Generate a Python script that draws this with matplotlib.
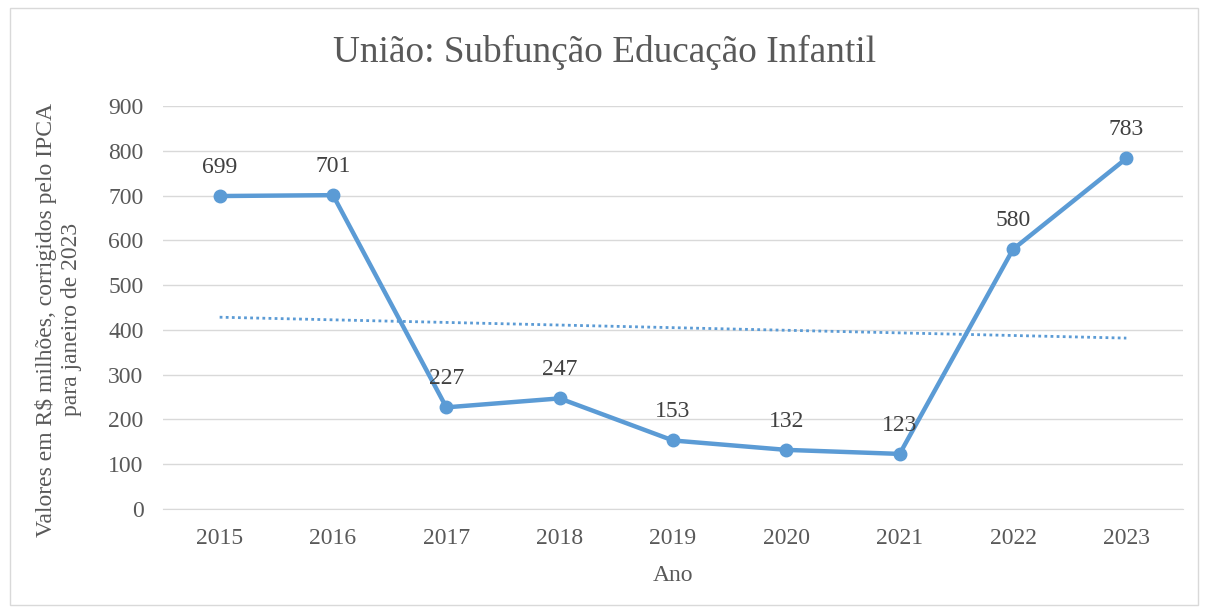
import matplotlib
matplotlib.use("Agg")
import matplotlib.pyplot as plt
import numpy as np
from matplotlib.patches import Rectangle

anos = ["2015", "2016", "2017", "2018", "2019", "2020", "2021", "2022", "2023"]
valores = [699, 701, 227, 247, 153, 132, 123, 580, 783]
yticks = [0, 100, 200, 300, 400, 500, 600, 700, 800, 900]

plt.rcParams['font.family'] = ['Liberation Serif', 'DejaVu Serif']

fig = plt.figure(figsize=(12.1, 6.13), dpi=100)
ax = fig.add_axes([0.1347, 0.1697, 0.9777 - 0.1347, 0.827 - 0.1697])

x = np.arange(len(anos))
color = '#5b9bd5'
ax.plot(x, valores, color=color, lw=3.2, marker='o', markersize=9, zorder=3)

# linear trendline
coef = np.polyfit(x, valores, 1)
trend = np.polyval(coef, x)
ax.plot(x, trend, color=color, lw=2, linestyle=(0, (1, 1.2)), zorder=2)

for xi, v in zip(x, valores):
    ax.annotate(str(v), (xi, v), xytext=(0, 13), textcoords='offset points',
                ha='center', va='bottom', fontsize=17, color='#404040')

ax.set_xlim(-0.5, len(anos) - 0.5)
ax.set_ylim(0, 900)
ax.set_yticks(yticks)
ax.set_xticks(x)
ax.set_xticklabels(anos)
ax.tick_params(axis='both', length=0, labelsize=17, labelcolor='#595959')
ax.tick_params(axis='y', pad=14)
ax.tick_params(axis='x', pad=14)
ax.grid(axis='y', color='#d9d9d9', lw=1)
ax.set_axisbelow(True)
for s in ['top', 'right', 'left']:
    ax.spines[s].set_visible(False)
ax.spines['bottom'].set_color('#d9d9d9')

ax.set_xlabel('Ano', fontsize=17, color='#595959', labelpad=11)
ax.set_ylabel('Valores em R$ milhões, corrigidos pelo IPCA\npara janeiro de 2023',
              fontsize=17, color='#595959', linespacing=1.3)
ax.yaxis.set_label_coords(-0.079, 0.47)
fig.text(0.5, 1 - 52 / 613, 'União: Subfunção Educação Infantil', ha='center', va='center',
         fontsize=26.8, color='#595959')

fig.patches.append(Rectangle((10 / 1210, 8 / 613), 1188 / 1210, 597 / 613, transform=fig.transFigure,
                             fill=False, edgecolor='#d9d9d9', lw=1))

fig.savefig('out.png', dpi=100)
